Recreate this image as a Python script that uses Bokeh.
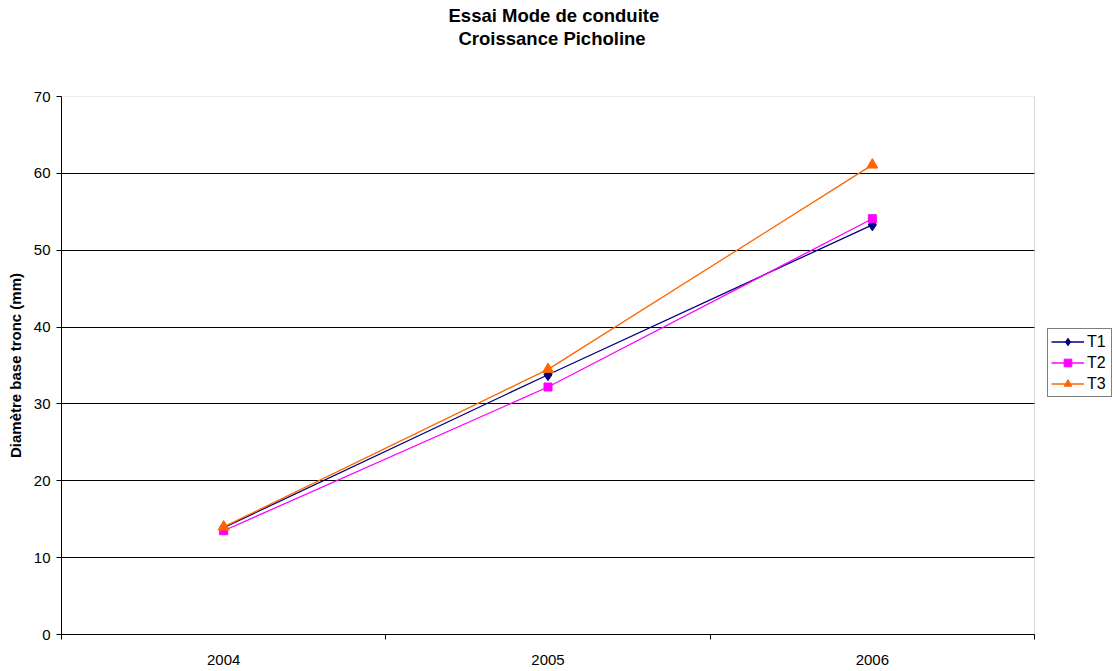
from bokeh.plotting import figure
from bokeh.models import (FixedTicker, Range1d, Legend, LegendItem, Title,
                          ColumnDataSource, BoxAnnotation)
from bokeh.embed import file_html
from bokeh.resources import INLINE

years = ["2004", "2005", "2006"]
t1 = [13.9, 33.8, 53.3]
t2 = [13.5, 32.2, 54.1]
t3 = [14.0, 34.5, 61.1]
yticks = [0, 10, 20, 30, 40, 50, 60, 70]

xpos = [i + 0.5 for i in range(len(years))]
FONT = "Liberation Sans"

# layout (pixels): plot area 973 px wide, frame extended to the right edge to hold the legend
PLOT_W = 973
FRAME_W = 1052
n = len(years)
x_end = n * FRAME_W / PLOT_W

p = figure(width=1113, height=671, output_backend="svg", toolbar_location=None,
           x_range=Range1d(0, x_end), y_range=Range1d(0, yticks[-1]),
           min_border_left=61, min_border_right=0, min_border_top=96, min_border_bottom=37)
p.background_fill_color = "white"
p.border_fill_color = "white"
p.outline_line_color = None

p.add_layout(Title(text=" ", text_font=FONT, text_font_size="18px", standoff=26), "above")
p.add_layout(Title(text="Croissance Picholine", text_font=FONT, text_font_size="18.5px",
                   text_color="black", text_font_style="bold", align="left", offset=397,
                   standoff=0), "above")
p.add_layout(Title(text="Essai Mode de conduite", text_font=FONT, text_font_size="18.5px",
                   text_color="black", text_font_style="bold", align="left", offset=387,
                   standoff=0), "above")

p.xaxis.ticker = FixedTicker(ticks=xpos, minor_ticks=list(range(n + 1)))
p.xaxis.bounds = (0, n)
p.xaxis.major_label_overrides = {x: y for x, y in zip(xpos, years)}
p.xaxis.major_tick_line_alpha = 0
p.xaxis.minor_tick_in = 0
p.xaxis.minor_tick_out = 5
p.xaxis.minor_tick_line_color = "black"
p.xaxis.axis_line_color = "black"
p.xaxis.major_label_text_font = FONT
p.xaxis.major_label_text_font_size = "15px"
p.xaxis.major_label_text_color = "black"
p.xaxis.major_label_standoff = 14

p.yaxis.ticker = FixedTicker(ticks=yticks)
p.yaxis.minor_tick_line_alpha = 0
p.yaxis.major_tick_in = 0
p.yaxis.major_tick_out = 5
p.yaxis.major_tick_line_color = "black"
p.yaxis.axis_line_color = "black"
p.yaxis.major_label_text_font = FONT
p.yaxis.major_label_text_font_size = "15px"
p.yaxis.major_label_text_color = "black"
p.yaxis.major_label_standoff = 6
p.yaxis.axis_label = "Diamètre base tronc (mm)"
p.yaxis.axis_label_text_font = FONT
p.yaxis.axis_label_text_font_style = "bold"
p.yaxis.axis_label_text_font_size = "15px"
p.yaxis.axis_label_text_color = "black"
p.yaxis.axis_label_standoff = 7

p.xgrid.grid_line_alpha = 0
p.ygrid.ticker = FixedTicker(ticks=yticks[1:-1])
p.ygrid.grid_line_color = "black"
p.ygrid.grid_line_width = 1

# white cover for the legend area, then the grey plot-area border
p.add_layout(BoxAnnotation(left=n, fill_color="white", fill_alpha=1, line_alpha=0,
                           level="underlay"))
p.add_layout(BoxAnnotation(left=0, right=n, bottom=yticks[0], top=yticks[-1], fill_alpha=0,
                           line_color="#808080", line_width=1, level="underlay"))

src = ColumnDataSource(dict(x=xpos, t1=t1, t2=t2, t3=t3))
l1 = p.line("x", "t1", source=src, line_color="#000080", line_width=1.3)
m1 = p.scatter("x", "t1", source=src, marker="diamond", size=12, color="#000080")
l2 = p.line("x", "t2", source=src, line_color="#FF00FF", line_width=1.3)
m2 = p.scatter("x", "t2", source=src, marker="square", size=8, color="#FF00FF")
l3 = p.line("x", "t3", source=src, line_color="#FF6600", line_width=1.3)
m3 = p.scatter("x", "t3", source=src, marker="triangle", size=11, color="#FF6600")

legend = Legend(items=[LegendItem(label="T1", renderers=[l1, m1]),
                       LegendItem(label="T2", renderers=[l2, m2]),
                       LegendItem(label="T3", renderers=[l3, m3])],
                location=(986, 237), border_line_color="black", border_line_width=1,
                label_text_font=FONT, label_text_font_size="16px", label_text_color="black",
                glyph_width=33, glyph_height=19, spacing=2, padding=3, margin=0,
                label_standoff=3, label_height=19, label_width=21, background_fill_alpha=1)
p.add_layout(legend, "center")

open("out.html", "w").write(file_html(p, INLINE))
